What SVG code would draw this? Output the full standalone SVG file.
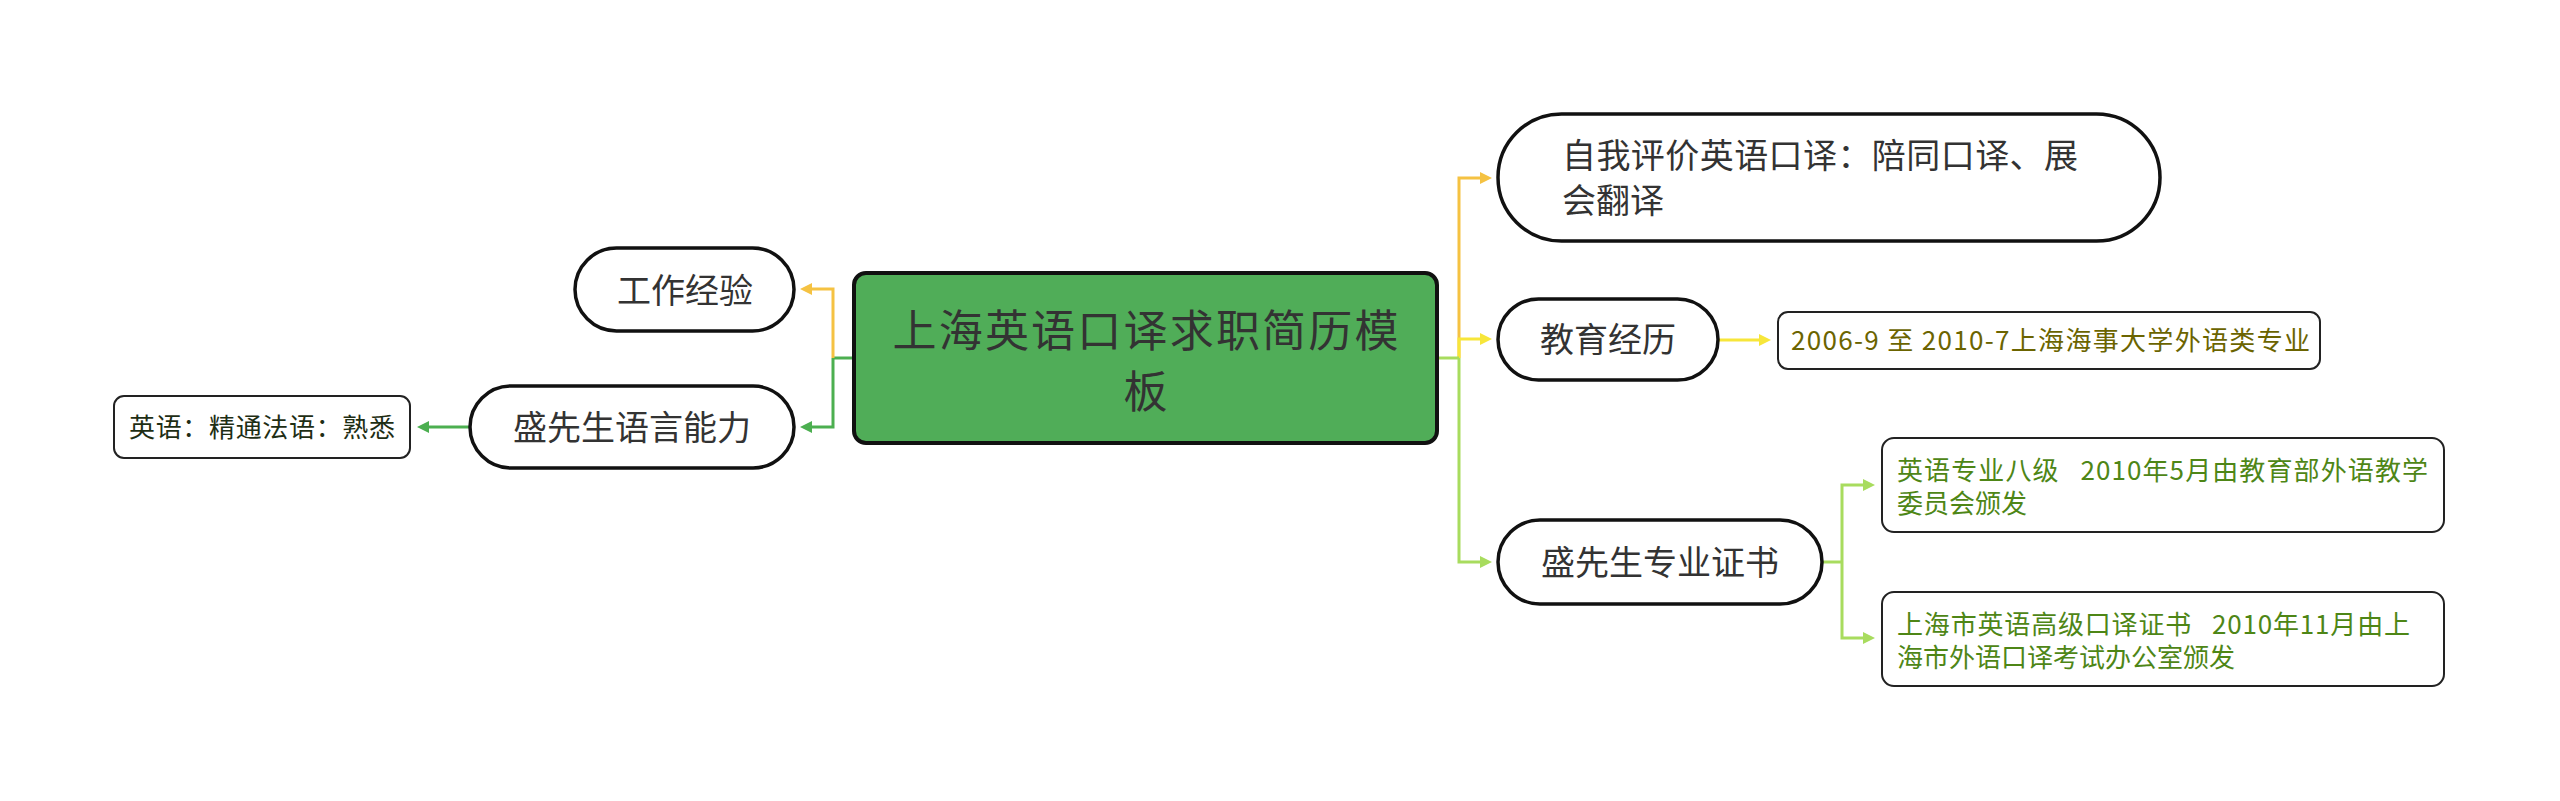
<svg xmlns="http://www.w3.org/2000/svg" width="2560" height="801" viewBox="0 0 2560 801">
<style>
.pill{fill:#fff;stroke:#111;stroke-width:3.5}
.leaf{fill:#fff;stroke:#222;stroke-width:2}
.t{font-family:"Noto Sans CJK SC","Noto Sans",sans-serif}
.main{font-size:44px;fill:#333;text-anchor:middle}
.nt{font-size:34px;fill:#333;text-anchor:middle}
.ntl{font-size:34px;fill:#333}
.lt{font-size:26px}
.c{fill:none;stroke-width:3}
</style>
<defs>
<marker id="aO" viewBox="0 0 12 12" refX="6" refY="6" markerWidth="12" markerHeight="12" markerUnits="userSpaceOnUse" orient="auto"><path d="M0,0L12,6L0,12z" fill="#f5c242"/></marker>
<marker id="aY" viewBox="0 0 12 12" refX="6" refY="6" markerWidth="12" markerHeight="12" markerUnits="userSpaceOnUse" orient="auto"><path d="M0,0L12,6L0,12z" fill="#f7e63a"/></marker>
<marker id="aL" viewBox="0 0 12 12" refX="6" refY="6" markerWidth="12" markerHeight="12" markerUnits="userSpaceOnUse" orient="auto"><path d="M0,0L12,6L0,12z" fill="#a8dc5e"/></marker>
<marker id="aG" viewBox="0 0 12 12" refX="6" refY="6" markerWidth="12" markerHeight="12" markerUnits="userSpaceOnUse" orient="auto"><path d="M0,0L12,6L0,12z" fill="#4caf50"/></marker>
</defs>
<rect width="2560" height="801" fill="#fff"/>
<g id="connectors">
<path class="c" stroke="#4caf50" d="M854,358H833"/>
<path class="c" stroke="#f5c242" d="M833,358V289H806" marker-end="url(#aO)"/>
<path class="c" stroke="#4caf50" d="M833,358V427H806" marker-end="url(#aG)"/>
<path class="c" stroke="#4caf50" d="M470,427H423" marker-end="url(#aG)"/>
<path class="c" stroke="#f5c242" d="M1459,358V178H1486" marker-end="url(#aO)"/>
<path class="c" stroke="#f7e63a" d="M1459,358V339H1486" marker-end="url(#aY)"/>
<path class="c" stroke="#a8dc5e" d="M1459,358V562H1486" marker-end="url(#aL)"/>
<path class="c" stroke="#a8dc5e" d="M1437,358H1459"/>
<path class="c" stroke="#f7e63a" d="M1718,340H1765" marker-end="url(#aY)"/>
<path class="c" stroke="#a8dc5e" d="M1822,562H1842"/>
<path class="c" stroke="#a8dc5e" d="M1842,562V485H1869" marker-end="url(#aL)"/>
<path class="c" stroke="#a8dc5e" d="M1842,562V638H1869" marker-end="url(#aL)"/>
</g>
<g id="root">
<rect x="854" y="273" width="583" height="170" rx="12" fill="#50ad58" stroke="#111" stroke-width="4"/>
<text class="t main" x="1145.5" y="347" textLength="506">上海英语口译求职简历模</text>
<text class="t main" x="1145.5" y="408">板</text>
</g>
<g id="work">
<rect class="pill" x="575" y="248" width="219" height="83" rx="41.5"/>
<text class="t nt" x="685" y="303">工作经验</text>
</g>
<g id="lang">
<rect class="pill" x="470" y="386" width="324" height="82" rx="41"/>
<text class="t nt" x="632" y="440">盛先生语言能力</text>
</g>
<g id="lang-leaf">
<rect class="leaf" x="114" y="396" width="296" height="62" rx="10"/>
<text class="t lt" x="262" y="437" fill="#1e2e14" text-anchor="middle" textLength="266">英语：精通法语：熟悉</text>
</g>
<g id="self">
<rect class="pill" x="1498" y="114" width="662" height="127" rx="63.5"/>
<text class="t ntl" x="1562" y="168" textLength="516">自我评价英语口译：陪同口译、展</text>
<text class="t ntl" x="1562" y="213">会翻译</text>
</g>
<g id="edu">
<rect class="pill" x="1498" y="299" width="220" height="81" rx="40.5"/>
<text class="t nt" x="1608" y="352">教育经历</text>
</g>
<g id="edu-leaf">
<rect class="leaf" x="1778" y="312" width="542" height="57" rx="10"/>
<text class="t lt" x="1791" y="350" fill="#6b6400" textLength="519">2006-9 至 2010-7上海海事大学外语类专业</text>
</g>
<g id="cert">
<rect class="pill" x="1498" y="520" width="324" height="84" rx="42"/>
<text class="t nt" x="1660" y="575">盛先生专业证书</text>
</g>
<g id="cert-leaf1">
<rect class="leaf" x="1882" y="438" width="562" height="94" rx="12"/>
<text class="t lt" x="1897" y="480" fill="#4e8616" xml:space="preserve" textLength="531">英语专业八级   2010年5月由教育部外语教学</text>
<text class="t lt" x="1897" y="513" fill="#4e8616">委员会颁发</text>
</g>
<g id="cert-leaf2">
<rect class="leaf" x="1882" y="592" width="562" height="94" rx="12"/>
<text class="t lt" x="1897" y="634" fill="#4e8616" xml:space="preserve" textLength="513">上海市英语高级口译证书   2010年11月由上</text>
<text class="t lt" x="1897" y="667" fill="#4e8616">海市外语口译考试办公室颁发</text>
</g>
</svg>
